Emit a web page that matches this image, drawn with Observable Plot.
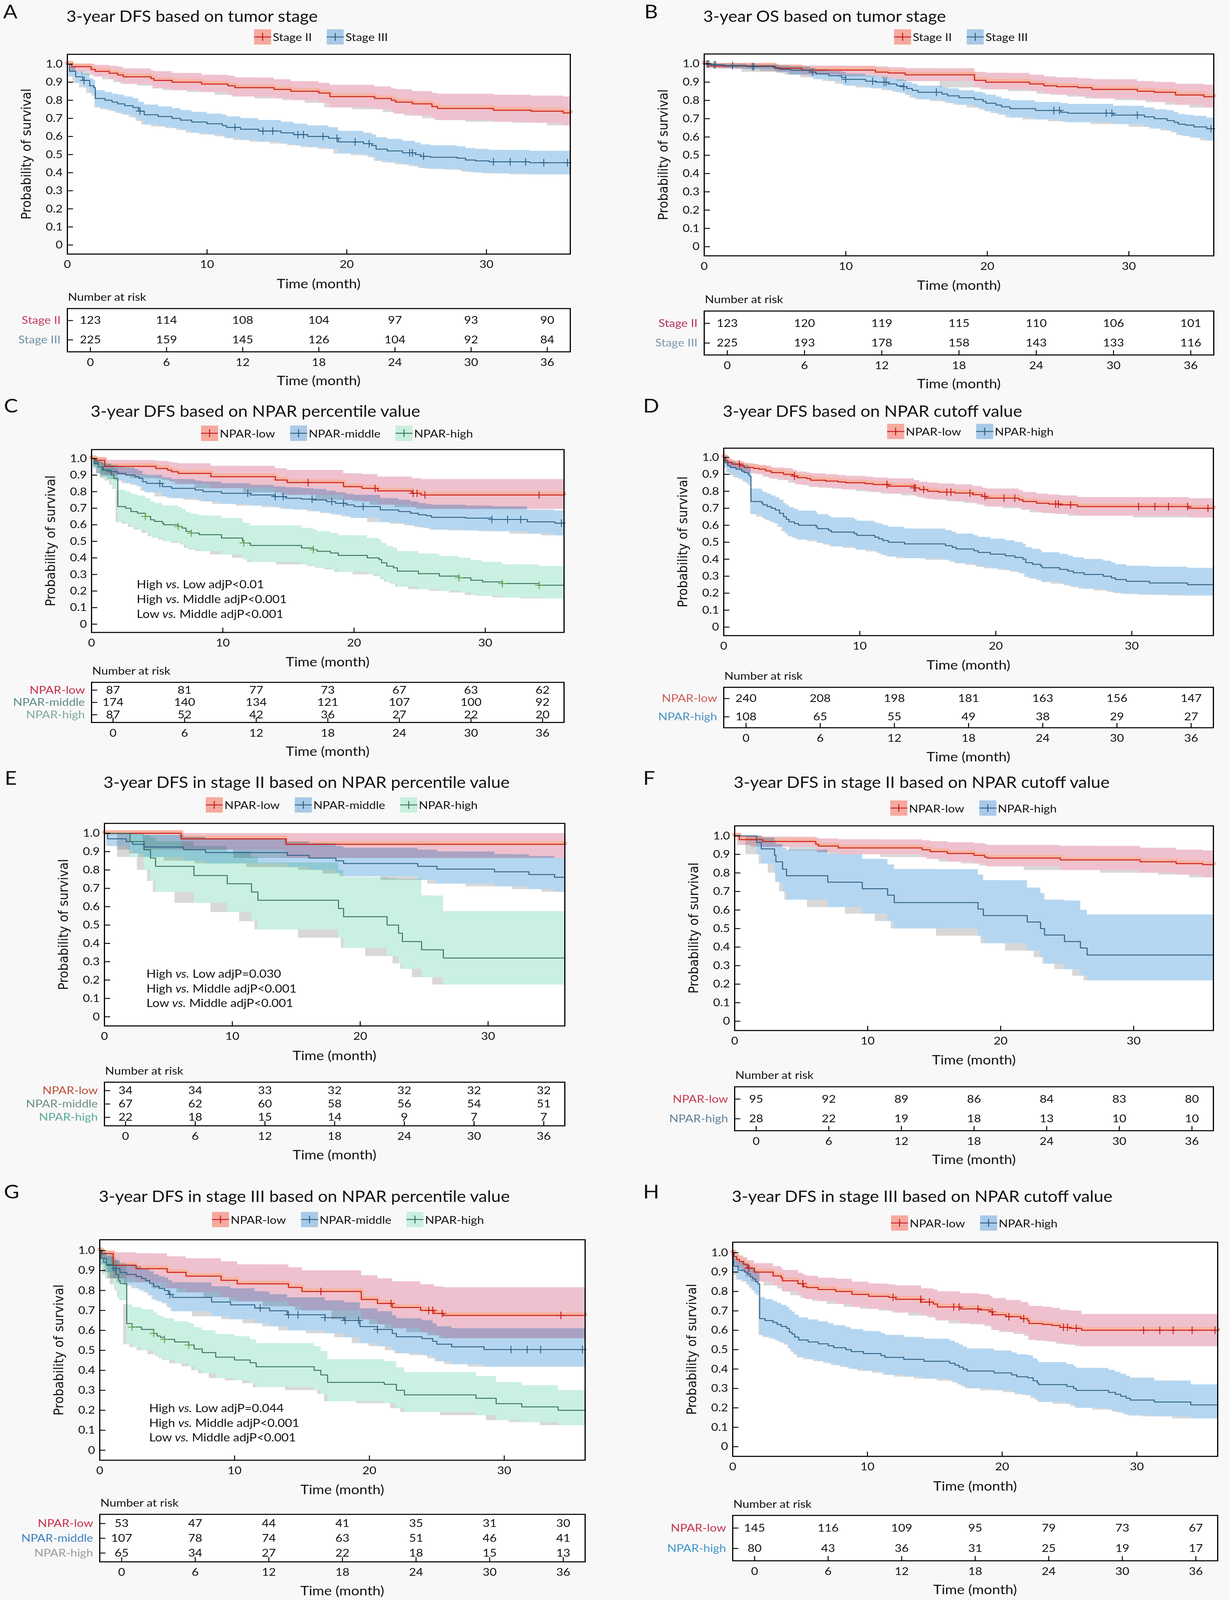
<!DOCTYPE html>
<html>
<head>
<meta charset="utf-8">
<script src="https://cdn.jsdelivr.net/npm/d3@7"></script>
<script src="https://cdn.jsdelivr.net/npm/@observablehq/plot@0.6"></script>
<style>
html,body{margin:0;padding:0;background:#f8f8f8;}
#page{position:relative;width:3150px;height:4550px;overflow:hidden;background:#f8f8f8;}
.t{position:absolute;white-space:nowrap;}
.bg{position:absolute;background:#ffffff;}
</style>
</head>
<body>
<div id="page"></div>
<script>
// ---------- axis ticks ----------
const timeTicks = [0, 10, 20, 30];
const survTicks = [0, 0.1, 0.2, 0.3, 0.4, 0.5, 0.6, 0.7, 0.8, 0.9, 1.0];
const riskTimes = [0, 6, 12, 18, 24, 30, 36];

// ---------- titles & group names ----------
const titleA = "3-year DFS based on tumor stage";
const titleB = "3-year OS based on tumor stage";
const titleC = "3-year DFS based on NPAR percentile value";
const titleD = "3-year DFS based on NPAR cutoff value";
const titleE = "3-year DFS in stage II based on NPAR percentile value";
const titleF = "3-year DFS in stage II based on NPAR cutoff value";
const titleG = "3-year DFS in stage III based on NPAR percentile value";
const titleH = "3-year DFS in stage III based on NPAR cutoff value";
const stageNames = ["Stage II", "Stage III"];
const nparNames3 = ["NPAR-low", "NPAR-middle", "NPAR-high"];
const nparNames2 = ["NPAR-low", "NPAR-high"];
const notesC = [["High", "Low adjP<0.01"], ["High", "Middle adjP<0.001"], ["Low", "Middle adjP<0.001"]];
const notesE = [["High", "Low adjP=0.030"], ["High", "Middle adjP<0.001"], ["Low", "Middle adjP<0.001"]];
const notesG = [["High", "Low adjP=0.044"], ["High", "Middle adjP<0.001"], ["Low", "Middle adjP<0.001"]];

// ---------- survival steps: [time, survival, lower CI, upper CI] ----------
// Panel A
const A_stage2 = [[0,1,1,1],[0.3,0.986,0.96,1],[1.7,0.97,0.94,1],[2.0,0.96,0.93,0.995],[3.0,0.95,0.915,0.99],[3.6,0.94,0.9,0.985],[4.0,0.93,0.89,0.975],[6.0,0.92,0.88,0.965],[6.2,0.91,0.865,0.96],[7.5,0.9,0.855,0.95],[9.6,0.89,0.845,0.94],[11.5,0.88,0.83,0.935],[12.0,0.87,0.82,0.925],[14.8,0.86,0.81,0.915],[16.0,0.85,0.8,0.905],[18.0,0.84,0.785,0.895],[18.8,0.82,0.76,0.885],[22.0,0.81,0.75,0.875],[23.2,0.8,0.735,0.865],[23.5,0.79,0.725,0.86],[24.7,0.78,0.715,0.85],[26.1,0.765,0.7,0.84],[26.5,0.755,0.69,0.835],[30.5,0.745,0.68,0.83],[33.2,0.74,0.675,0.825],[35.5,0.73,0.66,0.82]];
const A_stage2_cens = [];
const A_stage3 = [[0,1,1,1],[0.15,0.96,0.93,0.985],[0.6,0.93,0.895,0.96],[1.1,0.91,0.87,0.945],[1.6,0.88,0.84,0.92],[1.9,0.87,0.825,0.91],[2.0,0.81,0.76,0.855],[2.7,0.8,0.75,0.845],[3.2,0.79,0.74,0.835],[3.6,0.78,0.73,0.83],[4.1,0.77,0.72,0.82],[4.7,0.76,0.705,0.81],[5.1,0.74,0.685,0.79],[5.5,0.72,0.665,0.775],[6.5,0.71,0.655,0.765],[7.5,0.7,0.645,0.755],[8.1,0.69,0.635,0.745],[8.9,0.68,0.62,0.735],[10.0,0.67,0.61,0.725],[11.1,0.66,0.6,0.72],[11.4,0.65,0.59,0.71],[12.4,0.64,0.58,0.7],[13.7,0.63,0.57,0.69],[15.3,0.62,0.56,0.68],[16.2,0.61,0.55,0.67],[17.2,0.6,0.54,0.66],[18.7,0.59,0.53,0.65],[19.4,0.57,0.505,0.63],[21.2,0.56,0.495,0.62],[21.8,0.55,0.485,0.61],[22.1,0.53,0.465,0.595],[22.9,0.52,0.455,0.585],[24.0,0.51,0.445,0.575],[24.9,0.5,0.435,0.565],[25.3,0.49,0.425,0.555],[26.0,0.485,0.42,0.55],[27.9,0.48,0.415,0.545],[28.5,0.47,0.405,0.535],[29.2,0.465,0.4,0.53],[30.2,0.46,0.395,0.525],[33.1,0.455,0.39,0.52]];
const A_stage3_cens = [1.2,5.2,12,14,14.7,16.5,16.9,18.3,19.3,20.6,21.6,24.5,24.7,25.5,30.5,31.7,32.8,34.1,35.8];
const A_risk_stage2 = [123, 114, 108, 104, 97, 93, 90];
const A_risk_stage3 = [225, 159, 145, 126, 104, 92, 84];

// Panel B
const B_stage2 = [[0,1,1,1],[0.3,0.988,0.975,1],[5.0,0.976,0.955,0.995],[6.9,0.966,0.94,0.99],[12.1,0.955,0.93,0.985],[13.0,0.95,0.92,0.98],[14.2,0.94,0.905,0.975],[19.1,0.91,0.87,0.955],[19.9,0.9,0.86,0.95],[23.0,0.89,0.85,0.94],[24.0,0.88,0.835,0.93],[24.9,0.875,0.83,0.925],[26.4,0.87,0.82,0.92],[27.4,0.86,0.81,0.915],[30.6,0.85,0.8,0.905],[31.8,0.845,0.79,0.9],[33.3,0.83,0.775,0.89],[35.3,0.82,0.76,0.885]];
const B_stage2_cens = [];
const B_stage3 = [[0,1,1,1],[0.5,0.995,0.985,1],[1.4,0.99,0.975,1],[3.0,0.985,0.97,0.995],[4.9,0.98,0.96,0.995],[5.3,0.97,0.95,0.99],[6.1,0.965,0.94,0.985],[7.5,0.955,0.925,0.975],[7.9,0.945,0.915,0.97],[8.8,0.935,0.905,0.96],[9.7,0.925,0.89,0.955],[10.0,0.915,0.88,0.945],[11.4,0.905,0.87,0.935],[12.1,0.9,0.865,0.93],[13.0,0.89,0.855,0.92],[13.6,0.88,0.845,0.915],[14.1,0.875,0.84,0.91],[14.3,0.865,0.83,0.9],[14.7,0.855,0.815,0.89],[15.1,0.845,0.805,0.88],[16.8,0.835,0.795,0.87],[17.2,0.825,0.785,0.865],[18.0,0.815,0.775,0.855],[19.1,0.805,0.76,0.845],[19.7,0.795,0.75,0.84],[19.9,0.785,0.74,0.83],[20.6,0.775,0.73,0.82],[21.0,0.765,0.72,0.81],[21.6,0.755,0.705,0.8],[23.4,0.745,0.695,0.79],[25.2,0.735,0.685,0.785],[25.7,0.73,0.68,0.78],[28.9,0.72,0.67,0.77],[31.1,0.71,0.655,0.76],[31.8,0.7,0.645,0.75],[32.7,0.69,0.635,0.745],[33.2,0.68,0.625,0.735],[33.5,0.67,0.61,0.725],[34.0,0.665,0.605,0.72],[34.6,0.655,0.595,0.715],[35.5,0.645,0.58,0.705]];
const B_stage3_cens = [0.2,0.3,0.7,0.8,2.0,3.4,3.5,7.65,10.0,11.9,12.7,12.85,14.1,16.4,24.7,25.1,28.4,28.8,30.6,35.8];
const B_risk_stage2 = [123, 120, 119, 115, 110, 106, 101];
const B_risk_stage3 = [225, 193, 178, 158, 143, 133, 116];

// Panel C
const C_low = [[0,1,1,1],[0.3,0.99,0.96,1],[1.0,0.953,0.9,0.99],[4.9,0.94,0.88,0.985],[5.8,0.93,0.87,0.98],[6.1,0.92,0.86,0.975],[6.6,0.91,0.845,0.97],[9.1,0.89,0.82,0.955],[14.0,0.87,0.795,0.94],[14.9,0.855,0.78,0.93],[19.2,0.83,0.75,0.91],[20.6,0.82,0.74,0.905],[21.8,0.805,0.72,0.89],[24.4,0.79,0.705,0.88],[25.1,0.78,0.695,0.875]];
const C_low_cens = [16.5,21.6,24.5,24.8,25.4,34.1];
const C_mid = [[0,1,1,1],[0.2,0.97,0.94,0.99],[0.5,0.95,0.91,0.98],[0.9,0.93,0.89,0.965],[1.5,0.92,0.875,0.96],[2.0,0.91,0.865,0.95],[2.6,0.9,0.85,0.945],[3.3,0.89,0.84,0.935],[3.6,0.88,0.83,0.925],[3.9,0.86,0.805,0.905],[4.2,0.85,0.795,0.9],[5.4,0.83,0.77,0.885],[6.1,0.82,0.76,0.875],[7.9,0.81,0.75,0.865],[8.5,0.8,0.74,0.86],[9.9,0.79,0.725,0.85],[12.1,0.78,0.715,0.84],[13.9,0.77,0.705,0.83],[14.8,0.76,0.695,0.825],[16.0,0.755,0.69,0.82],[16.9,0.75,0.68,0.815],[17.9,0.74,0.67,0.805],[18.6,0.73,0.66,0.795],[19.4,0.72,0.65,0.785],[20.0,0.71,0.64,0.78],[22.0,0.69,0.615,0.76],[23.4,0.68,0.605,0.75],[24.3,0.67,0.595,0.74],[24.9,0.66,0.585,0.73],[25.5,0.655,0.58,0.725],[25.9,0.645,0.57,0.72],[28.5,0.64,0.565,0.715],[30.5,0.632,0.56,0.71],[33.2,0.618,0.545,0.69],[35.3,0.61,0.535,0.685]];
const C_mid_cens = [5.2,11.9,14.0,14.6,16.8,18.3,19.2,20.7,30.5,31.7,32.7,35.8];
const C_high = [[0,1,1,1],[0.2,0.98,0.95,1],[0.5,0.95,0.91,0.99],[0.8,0.93,0.88,0.975],[1.2,0.92,0.865,0.97],[1.5,0.9,0.84,0.955],[1.7,0.88,0.815,0.94],[2.0,0.71,0.615,0.81],[2.6,0.7,0.605,0.8],[3.0,0.68,0.585,0.785],[3.5,0.67,0.57,0.775],[4.1,0.65,0.55,0.76],[4.5,0.63,0.53,0.74],[4.8,0.62,0.52,0.73],[5.4,0.61,0.51,0.72],[5.5,0.6,0.5,0.715],[6.6,0.59,0.49,0.705],[6.9,0.58,0.48,0.695],[7.2,0.56,0.46,0.675],[7.6,0.55,0.45,0.665],[8.2,0.54,0.44,0.655],[9.9,0.52,0.42,0.64],[11.5,0.5,0.4,0.62],[11.6,0.49,0.39,0.61],[12.1,0.475,0.375,0.595],[16.0,0.46,0.36,0.58],[16.9,0.45,0.35,0.57],[17.2,0.44,0.34,0.56],[18.2,0.43,0.33,0.55],[18.8,0.415,0.315,0.535],[21.0,0.4,0.3,0.52],[21.9,0.39,0.29,0.51],[22.1,0.37,0.27,0.49],[22.5,0.35,0.255,0.47],[23.0,0.34,0.245,0.46],[23.3,0.32,0.225,0.44],[24.9,0.305,0.21,0.425],[26.5,0.29,0.2,0.41],[28.0,0.28,0.19,0.4],[28.9,0.265,0.175,0.385],[29.8,0.255,0.17,0.375],[31.3,0.245,0.16,0.36],[34.1,0.235,0.155,0.35]];
const C_high_cens = [4.1,6.6,7.6,11.6,16.9,28.0,31.3,34.1];
const C_risk_low = [87, 81, 77, 73, 67, 63, 62];
const C_risk_mid = [174, 140, 134, 121, 107, 100, 92];
const C_risk_high = [87, 52, 42, 36, 27, 22, 20];

// Panel D
const D_low = [[0,1,1,1],[0.15,0.98,0.96,0.995],[0.3,0.97,0.95,0.99],[0.6,0.96,0.935,0.98],[1.2,0.95,0.925,0.975],[1.5,0.94,0.91,0.965],[2.2,0.935,0.905,0.96],[2.6,0.93,0.9,0.955],[3.1,0.92,0.885,0.95],[3.5,0.91,0.875,0.94],[4.4,0.9,0.865,0.935],[5.1,0.89,0.85,0.925],[5.4,0.88,0.84,0.915],[6.1,0.875,0.835,0.91],[6.4,0.865,0.825,0.905],[7.5,0.86,0.82,0.9],[8.4,0.855,0.815,0.895],[9.0,0.85,0.81,0.89],[10.4,0.845,0.8,0.885],[11.0,0.84,0.795,0.88],[12.1,0.83,0.785,0.875],[14.0,0.82,0.775,0.865],[14.4,0.81,0.765,0.855],[15.0,0.8,0.755,0.85],[15.8,0.795,0.75,0.845],[17.0,0.79,0.74,0.84],[18.3,0.78,0.73,0.83],[19.0,0.77,0.72,0.82],[19.3,0.76,0.71,0.815],[21.7,0.75,0.7,0.805],[22.0,0.74,0.69,0.795],[23.0,0.73,0.675,0.785],[23.9,0.725,0.67,0.78],[24.7,0.72,0.665,0.775],[26.0,0.71,0.655,0.765],[34.2,0.7,0.645,0.758]];
const D_low_cens = [1.15,5.2,12.0,14.0,14.1,14.7,16.4,16.7,18.1,19.2,20.6,21.4,24.4,24.6,25.5,30.5,31.7,32.7,34.1,35.6];
const D_high = [[0,1,1,1],[0.1,0.97,0.94,0.99],[0.3,0.95,0.91,0.98],[0.5,0.94,0.895,0.975],[0.9,0.93,0.88,0.965],[1.3,0.92,0.87,0.96],[1.5,0.91,0.855,0.955],[1.8,0.9,0.845,0.95],[1.9,0.89,0.83,0.94],[2.0,0.74,0.665,0.815],[2.8,0.73,0.65,0.805],[2.9,0.72,0.64,0.795],[3.2,0.71,0.63,0.785],[3.5,0.7,0.62,0.775],[3.8,0.69,0.61,0.765],[4.1,0.67,0.59,0.75],[4.4,0.65,0.565,0.73],[4.6,0.635,0.55,0.72],[4.8,0.62,0.535,0.705],[5.2,0.61,0.525,0.695],[5.5,0.6,0.515,0.685],[6.8,0.59,0.505,0.675],[6.9,0.58,0.495,0.665],[7.7,0.57,0.485,0.655],[7.9,0.56,0.475,0.645],[9.6,0.55,0.465,0.635],[9.8,0.54,0.455,0.625],[11.1,0.53,0.445,0.615],[11.4,0.52,0.435,0.61],[11.7,0.51,0.425,0.6],[12.1,0.5,0.415,0.59],[13.3,0.49,0.405,0.58],[16.3,0.48,0.395,0.57],[16.8,0.47,0.385,0.56],[17.1,0.46,0.375,0.55],[18.4,0.45,0.365,0.54],[18.7,0.44,0.355,0.53],[19.6,0.43,0.345,0.52],[20.7,0.42,0.335,0.51],[21.4,0.41,0.325,0.5],[22.0,0.4,0.315,0.49],[22.2,0.38,0.295,0.47],[22.7,0.37,0.285,0.46],[23.3,0.36,0.275,0.45],[23.4,0.35,0.265,0.44],[24.7,0.34,0.255,0.43],[25.3,0.33,0.245,0.42],[25.7,0.32,0.235,0.41],[26.5,0.31,0.225,0.4],[27.9,0.3,0.215,0.39],[28.5,0.29,0.205,0.38],[28.8,0.28,0.2,0.37],[29.6,0.27,0.195,0.36],[31.3,0.26,0.19,0.355],[34.1,0.25,0.185,0.348]];
const D_high_cens = [];
const D_risk_low = [240, 208, 198, 181, 163, 156, 147];
const D_risk_high = [108, 65, 55, 49, 38, 29, 27];

// Panel E
const E_low = [[0,1,1,1],[6.0,0.97,0.91,1],[14.2,0.94,0.865,1]];
const E_low_cens = [];
const E_mid = [[0,1,1,1],[0.25,0.97,0.93,1],[1.7,0.955,0.91,1],[2.2,0.94,0.89,0.995],[3.1,0.925,0.87,0.99],[6.2,0.91,0.85,0.98],[7.9,0.895,0.835,0.97],[14.3,0.88,0.815,0.955],[16.0,0.865,0.8,0.945],[18.1,0.85,0.78,0.93],[18.7,0.835,0.765,0.92],[24.5,0.82,0.745,0.91],[26.0,0.805,0.725,0.9],[30.5,0.79,0.71,0.885],[33.2,0.775,0.695,0.875],[35.2,0.76,0.68,0.865]];
const E_mid_cens = [];
const E_high = [[0,1,1,1],[2.0,0.955,0.87,1],[3.1,0.91,0.8,0.99],[3.6,0.865,0.74,0.975],[4.0,0.82,0.68,0.955],[7.0,0.77,0.62,0.93],[9.6,0.725,0.57,0.9],[11.5,0.68,0.52,0.87],[12.0,0.635,0.475,0.84],[18.3,0.59,0.43,0.8],[18.7,0.545,0.375,0.76],[22.1,0.5,0.33,0.755],[23.0,0.455,0.29,0.75],[23.3,0.41,0.26,0.75],[24.8,0.365,0.215,0.66],[26.5,0.32,0.175,0.575]];
const E_high_cens = [];
const E_risk_low = [34, 34, 33, 32, 32, 32, 32];
const E_risk_mid = [67, 62, 60, 58, 56, 54, 51];
const E_risk_high = [22, 18, 15, 14, 9, 7, 7];

// Panel F
const F_low = [[0,1,1,1],[0.35,0.98,0.95,1],[2.1,0.97,0.94,0.995],[6.1,0.955,0.92,0.99],[6.3,0.945,0.91,0.985],[7.8,0.935,0.9,0.98],[14.1,0.925,0.885,0.975],[14.7,0.915,0.875,0.97],[16.0,0.905,0.86,0.965],[18.0,0.895,0.85,0.96],[18.8,0.885,0.84,0.955],[19.0,0.88,0.835,0.95],[24.5,0.87,0.815,0.945],[30.5,0.86,0.8,0.935],[33.2,0.85,0.79,0.925],[35.2,0.845,0.775,0.92]];
const F_low_cens = [];
const F_high = [[0,1,1,1],[1.65,0.965,0.9,1],[2.0,0.93,0.85,0.99],[3.0,0.895,0.8,0.975],[3.1,0.86,0.75,0.955],[3.6,0.82,0.7,0.935],[3.9,0.785,0.655,0.925],[7.0,0.75,0.615,0.9],[9.6,0.715,0.58,0.875],[11.5,0.68,0.54,0.845],[12.0,0.64,0.5,0.82],[18.3,0.605,0.46,0.79],[18.7,0.57,0.42,0.76],[22.0,0.535,0.38,0.72],[23.0,0.5,0.345,0.69],[23.3,0.465,0.31,0.655],[24.8,0.43,0.28,0.65],[26.0,0.395,0.245,0.6],[26.5,0.357,0.22,0.575]];
const F_high_cens = [];
const F_risk_low = [95, 92, 89, 86, 84, 83, 80];
const F_risk_high = [28, 22, 19, 18, 13, 10, 10];

// Panel G
const G_low = [[0,1,1,1],[0.15,0.985,0.96,1],[1.0,0.926,0.86,0.99],[2.7,0.909,0.84,0.985],[5.0,0.891,0.81,0.97],[6.4,0.872,0.79,0.96],[9.0,0.851,0.765,0.945],[10.2,0.833,0.745,0.93],[14.0,0.815,0.72,0.915],[15.0,0.795,0.7,0.9],[19.4,0.755,0.655,0.875],[20.6,0.735,0.63,0.86],[21.7,0.715,0.61,0.845],[23.8,0.7,0.59,0.83],[24.8,0.685,0.575,0.82],[25.5,0.675,0.56,0.815]];
const G_low_cens = [16.4,21.6,24.4,24.7,25.4,34.2];
const G_mid = [[0,1,1,1],[0.1,0.96,0.93,0.99],[0.5,0.93,0.89,0.97],[1.0,0.91,0.86,0.95],[1.5,0.89,0.84,0.935],[2.0,0.88,0.825,0.93],[2.7,0.87,0.81,0.92],[3.1,0.86,0.8,0.91],[3.4,0.85,0.79,0.905],[3.7,0.835,0.775,0.895],[4.0,0.82,0.755,0.88],[4.4,0.81,0.745,0.87],[4.8,0.8,0.735,0.865],[5.1,0.78,0.715,0.85],[5.4,0.765,0.695,0.84],[8.3,0.742,0.67,0.82],[9.7,0.728,0.655,0.81],[11.5,0.712,0.635,0.795],[12.6,0.698,0.62,0.78],[13.9,0.678,0.6,0.765],[16.7,0.664,0.585,0.75],[18.1,0.65,0.565,0.74],[19.3,0.619,0.535,0.71],[20.6,0.605,0.52,0.695],[21.7,0.585,0.5,0.675],[22.0,0.568,0.485,0.66],[23.9,0.559,0.475,0.65],[24.7,0.545,0.46,0.635],[25.0,0.531,0.445,0.62],[26.1,0.518,0.43,0.61],[28.5,0.504,0.418,0.61]];
const G_mid_cens = [1.2,5.2,11.9,14.0,14.7,16.7,18.2,19.2,20.6,30.5,31.7,32.7,35.8];
const G_high = [[0,1,1,1],[0.1,0.96,0.91,1],[0.3,0.94,0.88,0.99],[0.5,0.925,0.86,0.98],[1.0,0.9,0.83,0.965],[1.2,0.88,0.8,0.955],[1.4,0.85,0.765,0.93],[1.5,0.835,0.75,0.92],[2.0,0.634,0.53,0.73],[2.4,0.617,0.515,0.715],[3.1,0.605,0.5,0.705],[4.0,0.585,0.48,0.69],[4.25,0.572,0.47,0.675],[4.5,0.565,0.46,0.67],[4.8,0.555,0.45,0.66],[5.55,0.542,0.435,0.645],[6.6,0.527,0.42,0.635],[7.0,0.507,0.4,0.615],[7.6,0.489,0.385,0.6],[8.6,0.466,0.36,0.58],[10.0,0.452,0.35,0.57],[11.15,0.438,0.335,0.555],[11.6,0.418,0.315,0.535],[15.9,0.4,0.3,0.52],[16.4,0.377,0.28,0.495],[16.9,0.34,0.245,0.455],[21.1,0.33,0.235,0.445],[22.0,0.3,0.21,0.415],[22.6,0.277,0.19,0.39],[27.9,0.26,0.175,0.37],[29.4,0.233,0.15,0.34],[31.3,0.217,0.14,0.325],[34.0,0.2,0.125,0.3]];
const G_high_cens = [2.4,4.0,4.8,6.6];
const G_risk_low = [53, 47, 44, 41, 35, 31, 30];
const G_risk_mid = [107, 78, 74, 63, 51, 46, 41];
const G_risk_high = [65, 34, 27, 22, 18, 15, 13];

// Panel H
const H_low = [[0,1,1,1],[0.1,0.98,0.95,1],[0.3,0.965,0.93,0.99],[0.5,0.955,0.92,0.985],[0.8,0.94,0.9,0.975],[1.1,0.92,0.875,0.96],[1.6,0.9,0.85,0.945],[3.0,0.88,0.83,0.93],[3.6,0.87,0.815,0.92],[3.7,0.855,0.8,0.91],[4.85,0.84,0.78,0.895],[5.25,0.825,0.765,0.885],[5.5,0.82,0.76,0.88],[6.35,0.81,0.75,0.87],[7.65,0.8,0.735,0.865],[8.85,0.785,0.72,0.85],[10.1,0.775,0.71,0.84],[11.6,0.77,0.7,0.835],[12.1,0.76,0.69,0.83],[14.0,0.745,0.675,0.815],[14.9,0.735,0.665,0.81],[15.2,0.72,0.65,0.8],[16.9,0.71,0.635,0.79],[18.3,0.705,0.63,0.785],[19.1,0.695,0.62,0.775],[19.3,0.68,0.6,0.765],[20.3,0.67,0.59,0.755],[21.4,0.66,0.58,0.745],[21.9,0.65,0.57,0.74],[22.0,0.635,0.55,0.725],[23.0,0.63,0.545,0.72],[23.7,0.625,0.54,0.715],[24.3,0.615,0.53,0.705],[25.0,0.61,0.525,0.7],[25.9,0.6,0.517,0.683]];
const H_low_cens = [1.2,5.2,11.9,13.95,14.6,16.4,16.8,18.2,19.25,20.5,21.6,24.55,24.85,25.5,30.5,31.7,32.7,34.1,35.8];
const H_high = [[0,1,1,1],[0.05,0.95,0.91,0.985],[0.1,0.93,0.885,0.97],[0.4,0.91,0.86,0.955],[0.9,0.9,0.85,0.945],[1.1,0.89,0.835,0.935],[1.3,0.875,0.82,0.925],[1.5,0.865,0.805,0.915],[1.7,0.85,0.79,0.905],[1.85,0.84,0.78,0.895],[2.0,0.66,0.575,0.77],[2.4,0.65,0.565,0.76],[3.0,0.64,0.555,0.75],[3.3,0.63,0.545,0.74],[3.6,0.62,0.535,0.73],[4.0,0.61,0.525,0.72],[4.2,0.59,0.505,0.705],[4.4,0.58,0.49,0.695],[4.6,0.565,0.475,0.68],[4.9,0.55,0.46,0.665],[5.6,0.54,0.45,0.655],[6.35,0.53,0.44,0.645],[7.1,0.52,0.43,0.635],[7.5,0.51,0.42,0.625],[8.4,0.5,0.41,0.615],[8.8,0.49,0.4,0.605],[9.7,0.48,0.39,0.595],[11.0,0.47,0.38,0.585],[11.3,0.46,0.37,0.575],[12.7,0.45,0.36,0.565],[14.2,0.44,0.35,0.555],[16.1,0.43,0.34,0.545],[16.5,0.42,0.33,0.535],[16.8,0.41,0.32,0.525],[17.1,0.4,0.31,0.515],[17.4,0.39,0.3,0.505],[19.4,0.38,0.29,0.495],[20.7,0.37,0.28,0.485],[21.1,0.36,0.27,0.475],[21.9,0.355,0.265,0.47],[22.3,0.34,0.25,0.455],[22.6,0.33,0.24,0.445],[22.7,0.32,0.23,0.435],[24.8,0.31,0.22,0.425],[25.3,0.3,0.21,0.415],[25.5,0.29,0.2,0.405],[27.9,0.28,0.19,0.395],[28.4,0.27,0.18,0.385],[28.8,0.26,0.175,0.375],[29.2,0.25,0.165,0.365],[29.5,0.24,0.16,0.355],[31.3,0.23,0.155,0.34],[34.0,0.215,0.145,0.32]];
const H_high_cens = [];
const H_risk_low = [145, 116, 109, 95, 79, 73, 67];
const H_risk_high = [80, 43, 36, 31, 25, 19, 17];

// ---------- styles ----------
const FONT = "Lato, 'Open Sans', sans-serif";
const RED = {line: "#c4161c", band: "#efc1ce", halo: "#f8b3a0", swatch: "#f6a99e", cens: "#c4161c"};
const BLUE = {line: "#2d5e82", band: "#b4d6f1", swatch: "#a8cae8", cens: "#2d5e82"};
const GREEN = {line: "#36705a", band: "#c9f0e1", swatch: "#c8efde", cens: "#5fa043"};

const panels = [
  {letter: "A", title: titleA, lx: 8, ly: 31, ty: 46, legX: 822, legY: 105, fl: 172, fr: 1460, ft: 154, fb: 722, rt: 877, rb: 1000, rpad: 59,
   groups: [
     {name: stageNames[0], steps: A_stage2, cens: A_stage2_cens, risk: A_risk_stage2, pal: RED, label: "#c23a5e"},
     {name: stageNames[1], steps: A_stage3, cens: A_stage3_cens, risk: A_risk_stage3, pal: BLUE, label: "#6d8fa3"}]},
  {letter: "B", title: titleB, lx: 1650, ly: 31, ty: 46, legX: 2461, legY: 105, fl: 1803, fr: 3108, ft: 153, fb: 727, rt: 884, rb: 1009, rpad: 59,
   groups: [
     {name: stageNames[0], steps: B_stage2, cens: B_stage2_cens, risk: B_risk_stage2, pal: RED, label: "#b8305a"},
     {name: stageNames[1], steps: B_stage3, cens: B_stage3_cens, risk: B_risk_stage3, pal: BLUE, label: "#7b98ad"}]},
  {letter: "C", title: titleC, lx: 10, ly: 1152, ty: 1169, legX: 863, legY: 1232, fl: 234, fr: 1444, ft: 1278, fb: 1798, rt: 1940, rb: 2054, rpad: 55,
   notes: notesC, noteX: 350, noteY: [1661, 1703, 1745],
   groups: [
     {name: nparNames3[0], steps: C_low, cens: C_low_cens, risk: C_risk_low, pal: RED, label: "#c0304a"},
     {name: nparNames3[1], steps: C_mid, cens: C_mid_cens, risk: C_risk_mid, pal: BLUE, label: "#5e8a86"},
     {name: nparNames3[2], steps: C_high, cens: C_high_cens, risk: C_risk_high, pal: GREEN, label: "#7fa8a0"}]},
  {letter: "D", title: titleD, lx: 1647, ly: 1152, ty: 1169, legX: 2485, legY: 1227, fl: 1853, fr: 3107, ft: 1274, fb: 1807, rt: 1954, rb: 2069, rpad: 57,
   groups: [
     {name: nparNames2[0], steps: D_low, cens: D_low_cens, risk: D_risk_low, pal: RED, label: "#c95a55"},
     {name: nparNames2[1], steps: D_high, cens: D_high_cens, risk: D_risk_high, pal: BLUE, label: "#4a8fc0"}]},
  {letter: "E", title: titleE, lx: 12, ly: 2210, ty: 2224, legX: 875, legY: 2289, fl: 267, fr: 1446, ft: 2341, fb: 2917, rt: 3077, rb: 3201, rpad: 54,
   notes: notesE, noteX: 375, noteY: [2768, 2811, 2852],
   groups: [
     {name: nparNames3[0], steps: E_low, cens: E_low_cens, risk: E_risk_low, pal: RED, label: "#b8503a"},
     {name: nparNames3[1], steps: E_mid, cens: E_mid_cens, risk: E_risk_mid, pal: BLUE, label: "#6b8f85"},
     {name: nparNames3[2], steps: E_high, cens: E_high_cens, risk: E_risk_high, pal: GREEN, label: "#5aa898"}]},
  {letter: "F", title: titleF, lx: 1647, ly: 2210, ty: 2224, legX: 2493, legY: 2298, fl: 1881, fr: 3107, ft: 2348, fb: 2930, rt: 3090, rb: 3215, rpad: 55,
   groups: [
     {name: nparNames2[0], steps: F_low, cens: F_low_cens, risk: F_risk_low, pal: RED, label: "#c83a50"},
     {name: nparNames2[1], steps: F_high, cens: F_high_cens, risk: F_risk_high, pal: BLUE, label: "#5f7d98"}]},
  {letter: "G", title: titleG, lx: 10, ly: 3386, ty: 3402, legX: 891, legY: 3468, fl: 255, fr: 1498, ft: 3525, fb: 4152, rt: 4306, rb: 4441, rpad: 56,
   notes: notesG, noteX: 382, noteY: [4004, 4046, 4087],
   groups: [
     {name: nparNames3[0], steps: G_low, cens: G_low_cens, risk: G_risk_low, pal: RED, label: "#c8304a"},
     {name: nparNames3[1], steps: G_mid, cens: G_mid_cens, risk: G_risk_mid, pal: BLUE, label: "#3d7fbf"},
     {name: nparNames3[2], steps: G_high, cens: G_high_cens, risk: G_risk_high, pal: GREEN, label: "#9a9a9a"}]},
  {letter: "H", title: titleH, lx: 1647, ly: 3386, ty: 3402, legX: 2495, legY: 3478, fl: 1876, fr: 3118, ft: 3532, fb: 4141, rt: 4309, rb: 4438, rpad: 56,
   groups: [
     {name: nparNames2[0], steps: H_low, cens: H_low_cens, risk: H_risk_low, pal: RED, label: "#c83050"},
     {name: nparNames2[1], steps: H_high, cens: H_high_cens, risk: H_risk_high, pal: BLUE, label: "#3f95c8"}]}
];

// ---------- helpers ----------
const page = document.getElementById("page");
function addText(html, x, y, size, opts = {}) {
  const {anchor = "start", family = FONT, color = "#111", rotate = false, lh = "1"} = opts;
  const d = document.createElement("div");
  d.className = "t";
  d.innerHTML = html;
  Object.assign(d.style, {left: x + "px", top: y + "px", fontFamily: family, fontSize: size + "px", lineHeight: lh, color});
  const tx = anchor === "middle" ? "-50%" : anchor === "end" ? "-100%" : "0";
  d.style.transform = rotate ? "translate(-50%,-50%) rotate(-90deg)" : `translate(${tx},-50%)`;
  page.appendChild(d);
  return d;
}
function addBg(left, top, w, h) {
  const d = document.createElement("div");
  d.className = "bg";
  Object.assign(d.style, {left: left + "px", top: top + "px", width: w + "px", height: h + "px"});
  page.appendChild(d);
}
function placeSvg(svg, left, top, blend) {
  svg.style.position = "absolute";
  svg.style.left = left + "px";
  svg.style.top = top + "px";
  if (blend) svg.style.mixBlendMode = blend;
  page.appendChild(svg);
}
const extend = (steps) => { const l = steps[steps.length - 1]; return [...steps, [36, l[1], l[2], l[3]]]; };
const survAt = (steps, c) => steps[Math.max(0, d3.bisector(d => d[0]).right(steps, c) - 1)][1];
const yFmt = d => d === 0 ? "0" : d.toFixed(1);

function addLegend(p) {
  const box = document.createElement("div");
  box.className = "t";
  Object.assign(box.style, {left: p.legX + "px", top: p.legY + "px", transform: "translate(-50%,-50%)", display: "flex", alignItems: "center", fontFamily: FONT, fontSize: "31px", color: "#111"});
  p.groups.forEach((g, i) => {
    const item = document.createElement("div");
    item.style.cssText = `display:flex;align-items:center;margin-left:${i ? 38 : 0}px`;
    item.innerHTML = `<svg width="44" height="44" style="display:block"><rect width="44" height="44" fill="${g.pal.swatch}"/><line x1="0" x2="44" y1="22" y2="22" stroke="${g.pal.line}" stroke-width="2.5"/><line x1="22" x2="22" y1="11" y2="33" stroke="${g.pal.line}" stroke-width="2.5"/></svg><span style="margin-left:4px">${g.name}</span>`;
    box.appendChild(item);
  });
  page.appendChild(box);
}

function drawPanel(p) {
  const W = p.fr - p.fl, H = p.fb - p.ft;
  const ml = 90, mr = 6, mt = 6, mb = 70;
  const base = {
    width: W + ml + mr, height: H + mt + mb,
    marginLeft: ml, marginRight: mr, marginTop: mt, marginBottom: mb,
    style: {background: "transparent", fontFamily: FONT, fontSize: "31px", maxWidth: "none", overflow: "visible", color: "#111"}
  };
  addBg(p.fl, p.ft, W, H);
  p.groups.forEach(g => {
    const ext = extend(g.steps);
    const marks = [
      Plot.areaY(ext, {x: d => d[0], y1: d => d[2], y2: d => d[3], curve: "step", fill: "#d8d8d8"}),
      Plot.areaY(ext, {x: d => d[0], y1: d => d[2], y2: d => d[3], curve: "step-after", fill: g.pal.band})
    ];
    if (g.pal.halo) marks.push(Plot.line(ext, {x: d => d[0], y: d => d[1], curve: "step-after", stroke: g.pal.halo, strokeWidth: 12, dy: -3}));
    const svg = Plot.plot({...base, x: {domain: [0, 36], axis: null}, y: {domain: [-0.05, 1.054], axis: null}, marks});
    placeSvg(svg, p.fl - ml, p.ft - mt, "multiply");
  });
  const top = [];
  p.groups.forEach(g => {
    top.push(Plot.line(extend(g.steps), {x: d => d[0], y: d => d[1], curve: "step-after", stroke: g.pal.line, strokeWidth: 2.5}));
  });
  p.groups.forEach(g => {
    const pts = g.cens.map(c => [c, survAt(g.steps, c)]);
    top.push(Plot.dot(pts, {x: d => d[0], y: d => d[1], symbol: "plus", r: 7, stroke: g.pal.cens, strokeWidth: 2.2}));
  });
  top.push(
    Plot.ruleX(timeTicks, {x: d => d, insetTop: H - 13, stroke: "#000", strokeWidth: 2.5}),
    Plot.ruleY(survTicks, {y: d => d, insetRight: W - 15, stroke: "#000", strokeWidth: 2.5}),
    Plot.axisX({ticks: timeTicks, tickSize: 0, tickPadding: 18, label: null, fontSize: 31}),
    Plot.axisY({ticks: survTicks, tickSize: 0, tickPadding: 12, tickFormat: yFmt, label: null, fontSize: 31}),
    Plot.frame({stroke: "#000", strokeWidth: 3})
  );
  const topSvg = Plot.plot({...base, x: {domain: [0, 36]}, y: {domain: [-0.05, 1.054]}, marks: top});
  placeSvg(topSvg, p.fl - ml, p.ft - mt);

  const RH = p.rb - p.rt;
  const rml = 270, rmr = 6, rmt = 6, rmb = 70;
  const names = p.groups.map(g => g.name);
  const rows = p.groups.flatMap(g => g.risk.map((n, i) => ({t: riskTimes[i], g: g.name, n})));
  addBg(p.fl, p.rt, W, RH);
  const rmarks = [
    Plot.text(rows, {x: "t", y: "g", text: d => String(d.n), fontSize: 31, fill: "#111"}),
    ...p.groups.map(g => Plot.text([g.name], {y: d => d, text: d => d, frameAnchor: "left", textAnchor: "end", dx: -17, fontSize: 31, fill: g.label})),
    Plot.ruleX(riskTimes, {x: d => d, insetTop: RH - 13, stroke: "#000", strokeWidth: 2.5}),
    Plot.ruleY(names, {y: d => d, insetRight: W - 15, stroke: "#000", strokeWidth: 2.5}),
    Plot.axisX({ticks: riskTimes, tickSize: 0, tickPadding: 18, label: null, fontSize: 31}),
    Plot.frame({stroke: "#000", strokeWidth: 3})
  ];
  const riskSvg = Plot.plot({
    width: W + rml + rmr, height: RH + rmt + rmb,
    marginLeft: rml, marginRight: rmr, marginTop: rmt, marginBottom: rmb,
    style: {background: "transparent", fontFamily: FONT, fontSize: "31px", maxWidth: "none", overflow: "visible", color: "#111"},
    x: {domain: [0, 36], inset: p.rpad},
    y: {type: "point", domain: names, padding: 0.6, axis: null},
    marks: rmarks
  });
  placeSvg(riskSvg, p.fl - rml, p.rt - rmt);

  addText(p.letter, p.lx, p.ly + 2, 54, {lh: "0.72"});
  addText(p.title, p.fl - 2, p.ty, 44, {lh: "0.9"});
  addLegend(p);
  addText("Probability of survival", p.fl - 105, (p.ft + p.fb) / 2, 34.5, {family: "'DejaVu Sans', Verdana, sans-serif", rotate: true});
  addText("Time (month)", (p.fl + p.fr) / 2, p.fb + 83, 37, {anchor: "middle"});
  addText("Number at risk", p.fl + 2, p.rt - 33, 31);
  addText("Time (month)", (p.fl + p.fr) / 2, p.rb + 81, 37, {anchor: "middle"});
  if (p.notes) {
    p.notes.forEach((nt, i) => addText(`${nt[0]} <i>vs.</i> ${nt[1]}`, p.noteX, p.noteY[i], 32));
  }
}

panels.forEach(drawPanel);

// fit the 3150x4550 figure into the visible viewport if the window is smaller
function fitPage() {
  const vw = window.innerWidth || 3150;
  const vh = window.innerHeight || 4550;
  const sx = Math.min(1, vw / 3150), sy = Math.min(1, vh / 4550);
  if (sx < 0.999 || sy < 0.999) {
    document.documentElement.style.overflow = "hidden";
    document.body.style.overflow = "hidden";
    page.style.transformOrigin = "0 0";
    page.style.transform = `scale(${sx},${sy})`;
  } else {
    page.style.transform = "";
  }
}
fitPage();
window.addEventListener("resize", fitPage);
</script>
</body>
</html>
